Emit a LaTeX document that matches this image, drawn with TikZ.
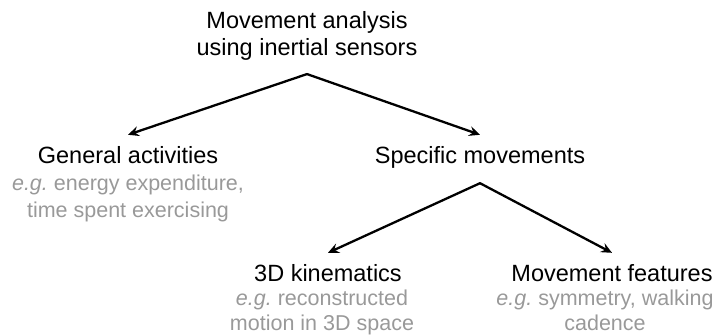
\documentclass[tikz,border=0pt]{standalone}
\usepackage{fontspec}
\setmainfont{Liberation Sans}
\usepackage{xcolor}
\usepackage{tikz}
\usetikzlibrary{arrows.meta}
\definecolor{exgray}{gray}{0.6}
\newcommand{\eg}{\textit{e.g.}}
\tikzset{
  tree/.style={
    ->,
    >={Stealth[length=11pt,width=10pt,inset=4pt]},
    line width=2.3pt,
    line cap=round},
  head/.style={
    anchor=base,
    inner ysep=11pt,
    font=\fontsize{23.5}{27}\selectfont},
  ex/.style={
    anchor=base,
    align=center,
    text=exgray,
    font=\fontsize{21.5}{26.5}\selectfont}
  }

\begin{document}
\begin{tikzpicture}[x=1pt,y=-1pt]
  \useasboundingbox (0,0) rectangle (725,335);
  \node [head, align=center, inner ysep=14pt] (top) at (307,55) {Movement analysis\\ using inertial sensors};
  \node [head] (gen) at (128,163) {General activities};
  \node [ex] (genex) at (128,217) {\eg\ energy expenditure,\\ time spent exercising};
  \node [head, text depth=9pt] (spec) at (480,163) {Specific movements};
  \node [head] (kin) at (328,281) {3D kinematics};
  \node [ex, font=\fontsize{21.5}{25}\selectfont] (kinex) at (322,330) {\eg\ reconstructed\\ motion in 3D space};
  \node [head] (feat) at (612,281) {Movement features};
  \node [ex, font=\fontsize{21.5}{25}\selectfont] (featex) at (605,330) {\eg\ symmetry, walking\\ cadence};
  \draw [tree] (top.south) to (gen.north);
  \draw [tree] (top.south) to (spec.north);
  \draw [tree] (spec.south) to (kin.north);
  \draw [tree] (spec.south) to (feat.north);
\end{tikzpicture}
\end{document}
